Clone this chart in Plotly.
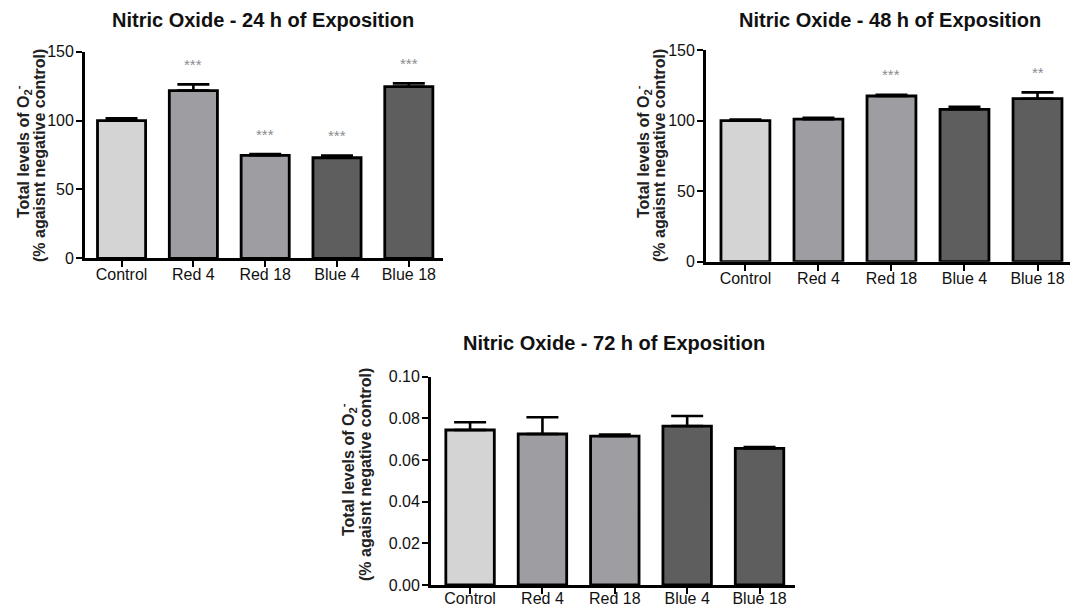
import plotly.graph_objects as go

# Groups and their bar colours
groups = ["Control", "Red 4", "Red 18", "Blue 4", "Blue 18"]
bar_colors = ["#d4d4d4", "#9e9ea2", "#9e9ea2", "#5e5e5e", "#5e5e5e"]

# 24 h exposition: mean and SEM
mean_24h = [100.0, 121.8, 74.8, 73.0, 124.6]
sem_24h = [1.6, 4.5, 0.9, 1.6, 2.4]
stars_24h = ["", "***", "***", "***", "***"]

# 48 h exposition: mean and SEM
mean_48h = [99.9, 101.0, 117.4, 108.0, 115.5]
sem_48h = [0.9, 0.9, 0.8, 1.8, 4.5]
stars_48h = ["", "", "***", "", "**"]

# 72 h exposition: mean and SEM
mean_72h = [0.0744, 0.0725, 0.0715, 0.0763, 0.0656]
sem_72h = [0.0037, 0.0080, 0.0007, 0.0048, 0.0006]
stars_72h = ["", "", "", "", ""]

panel_titles = [
    "Nitric Oxide - 24 h of Exposition",
    "Nitric Oxide - 48 h of Exposition",
    "Nitric Oxide - 72 h of Exposition",
]
y_title_line1 = "Total levels of O<sub>2</sub><sup>-</sup>"
y_title_line2 = "(% agaisnt negative control)"

W, H = 1070, 608
FONT = "Liberation Sans, Arial, sans-serif"


def px_x(p):
    return p / W


def px_y(p):
    return 1 - p / H


panels = [
    dict(means=mean_24h, sems=sem_24h, stars=stars_24h, xa="x", ya="y",
         xdom=[px_x(85), px_x(443)], ydom=[px_y(258.3), px_y(51.7)],
         xrange=[-0.509, 4.476], yrange=[0, 150], dtick=50, fmt="d",
         title_xy=(263, 20), ytitle_x=(23, 40), ytitle_y=(152, 156), xstand=-6),
    dict(means=mean_48h, sems=sem_48h, stars=stars_48h, xa="x2", ya="y2",
         xdom=[px_x(706), 1.0], ydom=[px_y(261.7), px_y(50)],
         xrange=[-0.54, 4.445], yrange=[0, 150], dtick=50, fmt="d",
         title_xy=(890, 20), ytitle_x=(643, 660), ytitle_y=(152, 156), xstand=-6),
    dict(means=mean_72h, sems=sem_72h, stars=stars_72h, xa="x3", ya="y3",
         xdom=[px_x(431), px_x(795)], ydom=[px_y(585), px_y(376.7)],
         xrange=[-0.54, 4.49], yrange=[0, 0.1], dtick=0.02, fmt=".2f",
         title_xy=(614, 343), ytitle_x=(348, 365), ytitle_y=(470, 475), xstand=-9),
]

fig = go.Figure()
annotations = []

for i, p in enumerate(panels):
    fig.add_trace(go.Bar(
        x=groups, y=p["means"], xaxis=p["xa"], yaxis=p["ya"],
        width=0.67,
        marker=dict(color=bar_colors, line=dict(color="black", width=2.8)),
        error_y=dict(type="data", array=p["sems"], arrayminus=[0] * len(groups),
                     symmetric=False, color="black", thickness=2.6, width=16),
        showlegend=False, hoverinfo="x+y",
    ))
    # significance marks above the error caps
    for g, m, s, st in zip(groups, p["means"], p["sems"], p["stars"]):
        if st:
            annotations.append(dict(
                x=g, y=m + s, xref=p["xa"], yref=p["ya"], text=st,
                showarrow=False, yanchor="middle", yshift=20,
                font=dict(family=FONT, size=15, color="#8c8c8c"),
            ))
    # panel title
    tx, ty = p["title_xy"]
    annotations.append(dict(
        x=px_x(tx), y=px_y(ty), xref="paper", yref="paper",
        text="<b>" + panel_titles[i] + "</b>", showarrow=False,
        xanchor="center", yanchor="middle",
        font=dict(family=FONT, size=20, color="#111111"),
    ))
    # two-line rotated y-axis title
    for line, lx, ly in zip([y_title_line1, y_title_line2], p["ytitle_x"], p["ytitle_y"]):
        annotations.append(dict(
            x=px_x(lx), y=px_y(ly), xref="paper", yref="paper",
            text="<b>" + line + "</b>", showarrow=False, textangle=-90,
            xanchor="center", yanchor="middle",
            font=dict(family=FONT, size=16, color="#222222"),
        ))

    axis_common = dict(showline=True, linecolor="black", linewidth=2.8,
                       ticks="outside", ticklen=6, tickwidth=2.2, tickcolor="black",
                       showgrid=False, zeroline=False, automargin=False,
                       tickfont=dict(family=FONT, size=16, color="#111111"))
    xkey = "xaxis" if p["xa"] == "x" else "xaxis" + p["xa"][1:]
    ykey = "yaxis" if p["ya"] == "y" else "yaxis" + p["ya"][1:]
    fig.update_layout(**{
        xkey: dict(domain=p["xdom"], anchor=p["ya"], range=p["xrange"],
                   type="category", ticklabelstandoff=p["xstand"], **axis_common),
        ykey: dict(domain=p["ydom"], anchor=p["xa"], range=p["yrange"],
                   dtick=p["dtick"], tick0=0, tickformat=p["fmt"],
                   ticklabelstandoff=-1, **axis_common),
    })

fig.update_layout(
    width=W, height=H, margin=dict(l=0, r=0, t=0, b=0, autoexpand=False),
    paper_bgcolor="white", plot_bgcolor="white",
    annotations=annotations, bargap=0.33,
)

fig.write_html("out.html")
